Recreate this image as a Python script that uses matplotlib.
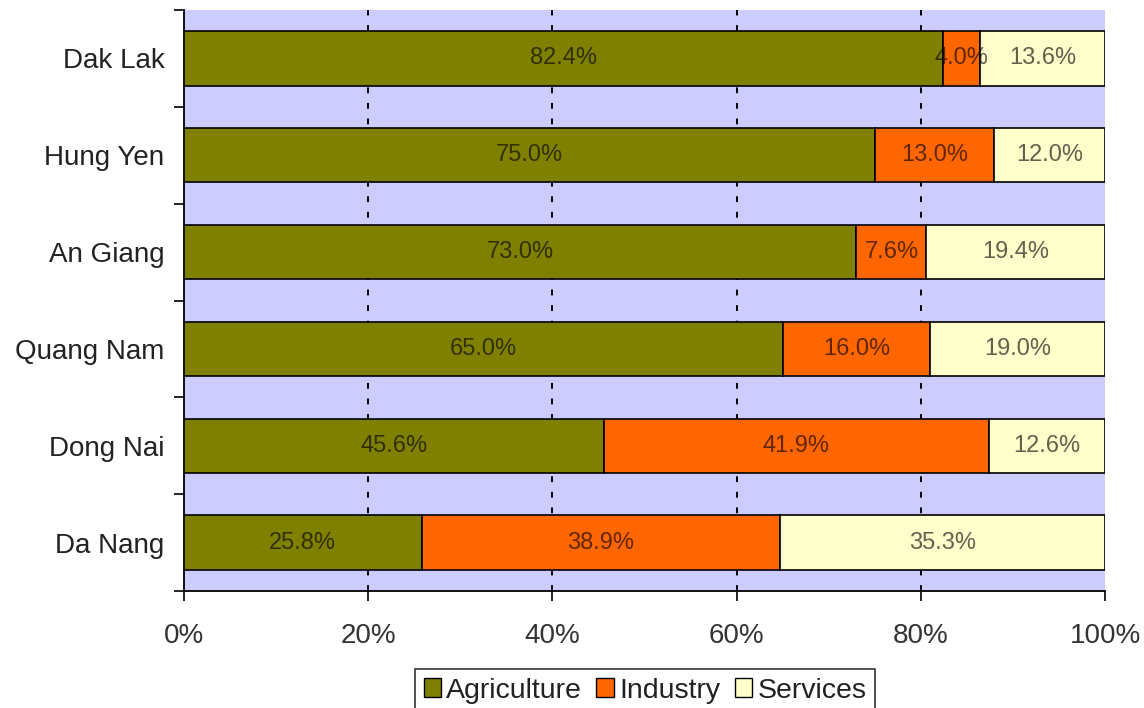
import numpy as np
import pandas as pd
import matplotlib
matplotlib.use("Agg")
import matplotlib.pyplot as plt
from matplotlib.ticker import FixedLocator, PercentFormatter

plt.rcParams['font.family'] = ['Liberation Sans', 'DejaVu Sans']

# Data
provinces = ["Dak Lak", "Hung Yen", "An Giang", "Quang Nam", "Dong Nai", "Da Nang"]
agriculture = [82.4, 75.0, 73.0, 65.0, 45.6, 25.8]
industry = [4.0, 13.0, 7.6, 16.0, 41.9, 38.9]
services = [13.6, 12.0, 19.4, 19.0, 12.6, 35.3]

series_names = ["Agriculture", "Industry", "Services"]
colors = ["#808000", "#FF6600", "#FFFFCC"]

df = pd.DataFrame({"Agriculture": agriculture, "Industry": industry, "Services": services},
                  index=provinces)
# 100% stacked: normalise each row
shares = df.div(df.sum(axis=1), axis=0) * 100

fig = plt.figure(figsize=(11.44, 7.08), dpi=100)
ax = fig.add_axes([184 / 1144, 1 - 591 / 708, (1105 - 184) / 1144, (591 - 10) / 708])
ax.set_facecolor("#CCCCFF")

y = np.arange(len(provinces))[::-1]
left = np.zeros(len(provinces))
for name, col in zip(series_names, colors):
    vals = shares[name].values
    ax.barh(y, vals, left=left, height=0.56, color=col, edgecolor="black",
            linewidth=1.2, label=name, zorder=3)
    for yi, l, v, raw in zip(y, left, vals, df[name].values):
        ax.text(l + v / 2, yi, f"{raw:.1f}%", ha="center", va="center",
                fontsize=17, color="black", alpha=0.62, zorder=4)
    left = left + vals

ax.set_xlim(0, 100)
ax.set_ylim(-0.5, len(provinces) - 0.5)

# x axis
ax.set_xticks([0, 20, 40, 60, 80, 100])
ax.xaxis.set_major_formatter(PercentFormatter(decimals=0))
ax.tick_params(axis="x", direction="out", length=7, width=1.2, labelsize=20,
               colors="black", pad=16)
for lab in ax.get_xticklabels():
    lab.set_color("#333333")

# y axis: labels at centres, tick marks at category boundaries
ax.set_yticks(y)
ax.set_yticklabels(provinces)
ax.tick_params(axis="y", which="major", length=0, labelsize=20, pad=14)
for lab in ax.get_yticklabels():
    lab.set_color("#222222")
ax.yaxis.set_minor_locator(FixedLocator(np.arange(-0.5, len(provinces), 1.0)))
ax.tick_params(axis="y", which="minor", direction="out", length=7, width=1.2)

# dashed gridlines (not at 0% or 100%)
for gx in [20, 40, 60, 80]:
    ax.axvline(gx, linestyle=(0, (3, 5)), color="black", linewidth=1.4, zorder=1)

for s in ["top", "right"]:
    ax.spines[s].set_visible(False)
ax.spines["left"].set_linewidth(1.3)
ax.spines["bottom"].set_linewidth(1.3)

leg = fig.legend(loc="upper center", bbox_to_anchor=(645 / 1144, 1 - 669 / 708),
                 ncol=3, fontsize=20.5, frameon=True, fancybox=False,
                 handlelength=0.6, handleheight=0.6, handletextpad=0.2,
                 columnspacing=0.5, borderpad=0.3, borderaxespad=0)
leg.get_frame().set_edgecolor("black")
leg.get_frame().set_linewidth(1.2)
for t in leg.get_texts():
    t.set_color("#222222")
for h in leg.legend_handles:
    h.set_linewidth(1.0)

fig.savefig("out.png", dpi=100)
